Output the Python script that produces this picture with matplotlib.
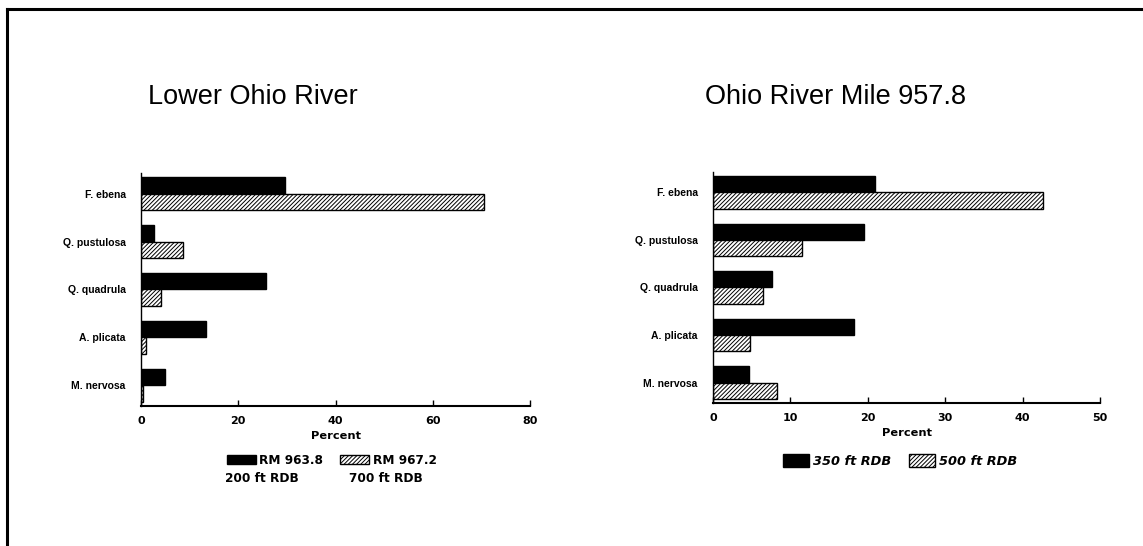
import matplotlib
matplotlib.use("Agg")
import matplotlib.pyplot as plt
from matplotlib.patches import Patch
from matplotlib.lines import Line2D
import numpy as np

plt.rcParams["font.family"] = ["Liberation Sans", "DejaVu Sans"]
plt.rcParams["hatch.linewidth"] = 0.7

species = ["F. ebena", "Q. pustulosa", "Q. quadrula", "A. plicata", "M. nervosa"]

# Lower Ohio River (percent)
lower_rm963 = [29.7, 2.7, 25.8, 13.4, 4.9]
lower_rm967 = [70.5, 8.7, 4.2, 1.1, 0.5]

# Ohio River Mile 957.8 (percent)
mile_350 = [20.9, 19.5, 7.6, 18.2, 4.6]
mile_500 = [42.6, 11.5, 6.4, 4.8, 8.3]

left_ticks = [0, 20, 40, 60, 80]
right_ticks = [0, 10, 20, 30, 40, 50]

fig = plt.figure(figsize=(11.43, 5.46), dpi=100)

# scanned page frame (top and left edges only)
fig.add_artist(Line2D([0.006, 1.0], [0.984, 0.984], color="black", lw=2.2))
fig.add_artist(Line2D([0.006, 0.006], [0.0, 0.984], color="black", lw=2.2))

ax1 = fig.add_axes([0.1234, 0.2564, 0.3403, 0.4268])
ax2 = fig.add_axes([0.6238, 0.2619, 0.3386, 0.4231])

h = 0.34
y = np.arange(len(species))
bold = {"family": "DejaVu Sans", "weight": "bold"}


def draw(ax, solid, hatched, ticks):
    ax.barh(y - h / 2, solid, height=h, color="black", edgecolor="black", lw=1)
    ax.barh(y + h / 2, hatched, height=h, color="white", edgecolor="black",
            lw=1, hatch="////////")
    ax.set_ylim(len(species) - 1 + 0.43, -0.43)
    ax.set_xlim(ticks[0], ticks[-1])
    ax.set_xticks(ticks)
    ax.set_yticks(y)
    ax.set_yticklabels(species, fontsize=7.5, fontweight="bold")
    ax.tick_params(axis="y", length=0, pad=11)
    ax.tick_params(axis="x", direction="in", length=4, width=1, pad=7)
    ax.set_xticklabels([str(t) for t in ticks], fontsize=8, **bold)
    ax.spines["top"].set_visible(False)
    ax.spines["right"].set_visible(False)
    ax.spines["left"].set_linewidth(1)
    ax.spines["bottom"].set_linewidth(1.5)
    ax.set_xlabel("Percent", fontsize=8.2, labelpad=4, **bold)


draw(ax1, lower_rm963, lower_rm967, left_ticks)
draw(ax2, mile_350, mile_500, right_ticks)

fig.text(0.2213, 0.822, "Lower Ohio River", fontsize=19.5, ha="center", va="center")
fig.text(0.7314, 0.822, "Ohio River Mile 957.8", fontsize=19.5, ha="center", va="center")

solid_patch = Patch(facecolor="black", edgecolor="black")
hatch_patch = Patch(facecolor="white", edgecolor="black", hatch="////////")

ax1.legend([solid_patch, hatch_patch], ["RM 963.8", "RM 967.2"],
           loc="center", bbox_to_anchor=(0.49, -0.232), ncol=2,
           frameon=False, handlelength=2.4, handleheight=0.8,
           handletextpad=0.3, columnspacing=1.4,
           prop={"family": "DejaVu Sans", "weight": "bold", "size": 8.7})
ax1.text(0.311, -0.309, "200 ft RDB", transform=ax1.transAxes, ha="center",
         va="center", fontsize=8.7, **bold)
ax1.text(0.630, -0.309, "700 ft RDB", transform=ax1.transAxes, ha="center",
         va="center", fontsize=8.7, **bold)

ax2.legend([solid_patch, hatch_patch], ["350 ft RDB", "500 ft RDB"],
           loc="center", bbox_to_anchor=(0.483, -0.251), ncol=2,
           frameon=False, handlelength=2.0, handleheight=1.1,
           handletextpad=0.3, columnspacing=1.4,
           prop={"family": "DejaVu Sans", "weight": "bold",
                 "style": "italic", "size": 9.3})

fig.savefig("out.png", dpi=100)
